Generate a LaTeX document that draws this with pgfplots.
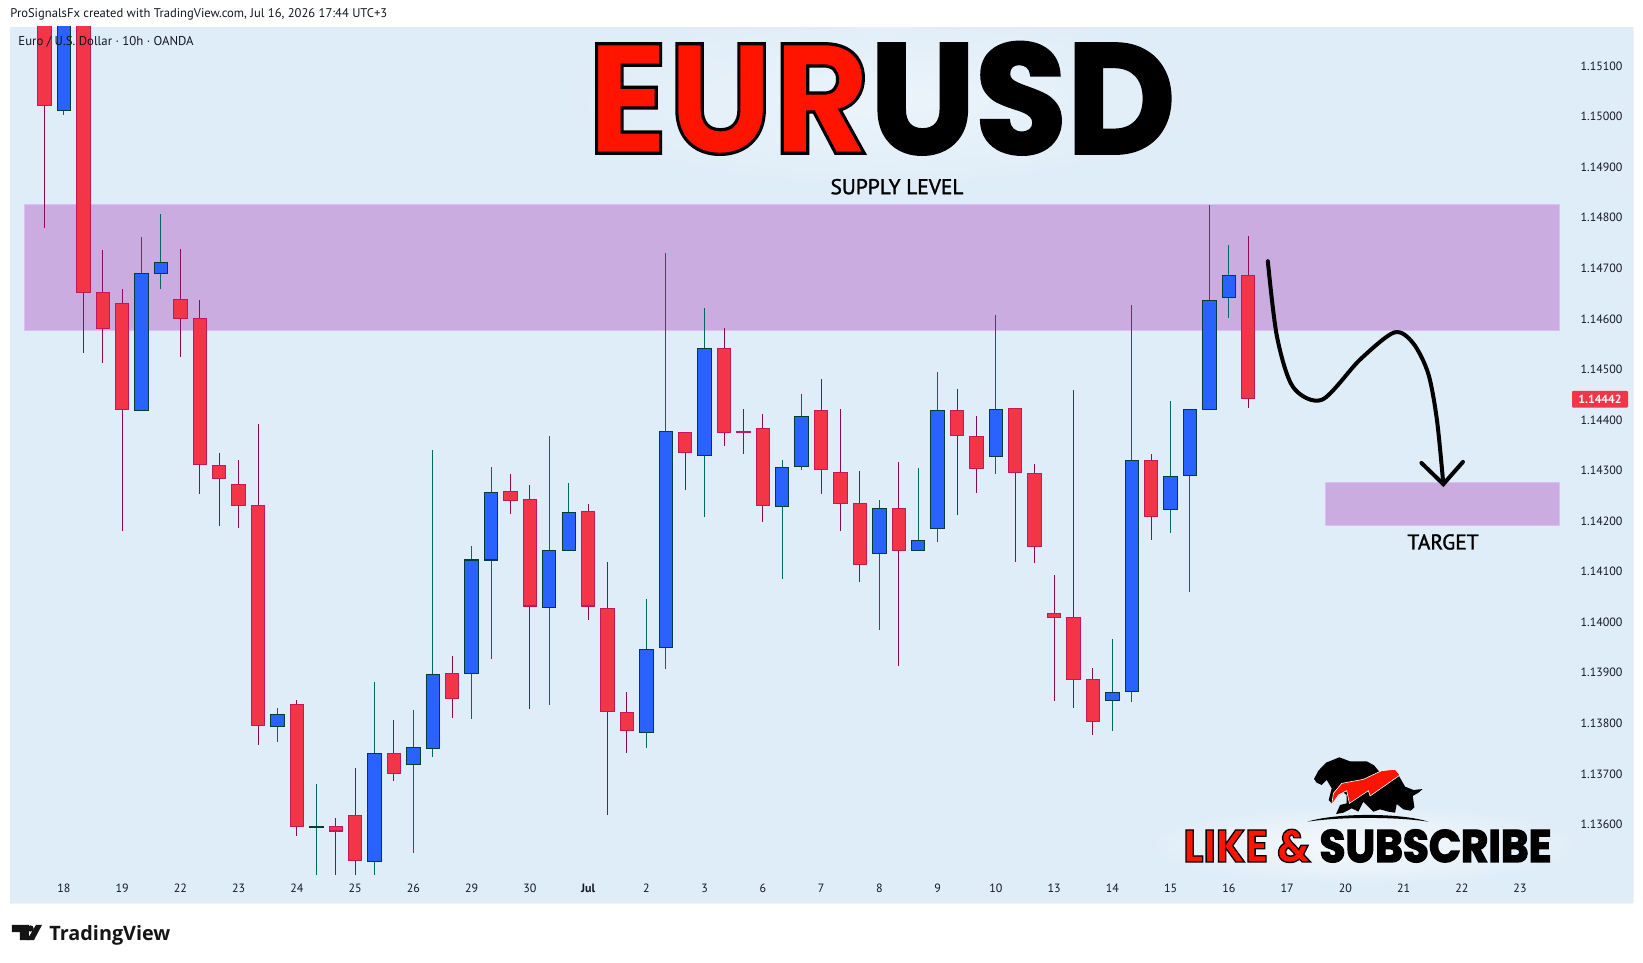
\documentclass[border=0pt]{standalone}
\usepackage{fontspec}
\usepackage{pgfplots}
\usepackage{pgfplotstable}
\pgfplotsset{compat=1.18}
\usetikzlibrary{fadings}
\tikzfading[name=softglow, inner color=transparent!0, outer color=transparent!100]
\setmainfont{PT Sans}
\newfontfamily\titlefont{Poppins}
\newfontfamily\tvfont{Open Sans}
\definecolor{bgc}{RGB}{223,237,248}
\definecolor{frame}{RGB}{240,243,248}
\definecolor{redfill}{RGB}{242,54,72}
\definecolor{redline}{RGB}{194,24,91}
\definecolor{redwick}{RGB}{136,14,79}
\definecolor{bluefill}{RGB}{41,98,255}
\definecolor{blueline}{RGB}{0,62,56}
\definecolor{bluewick}{RGB}{0,105,92}
\definecolor{zone}{RGB}{203,172,224}
\definecolor{zoneedge}{RGB}{222,190,244}
\definecolor{txt}{RGB}{19,23,34}
\definecolor{eur}{RGB}{255,20,0}
% x top bot hi lo
\pgfplotstableread{
x top bot hi lo
0 1.15300 1.15020 1.15350 1.14780
2 1.15300 1.14652 1.15350 1.14533
3 1.14654 1.14579 1.14736 1.14513
4 1.14631 1.14420 1.14659 1.14181
7 1.14639 1.14600 1.14738 1.14525
8 1.14601 1.14310 1.14637 1.14254
9 1.14310 1.14284 1.14335 1.14190
10 1.14273 1.14229 1.14321 1.14187
11 1.14231 1.13795 1.14392 1.13757
13 1.13838 1.13594 1.13846 1.13577
15 1.13596 1.13586 1.13613 1.13500
16 1.13618 1.13528 1.13712 1.13500
18 1.13741 1.13700 1.13807 1.13686
21 1.13899 1.13849 1.13933 1.13811
24 1.14259 1.14240 1.14293 1.14214
25 1.14243 1.14031 1.14271 1.13828
28 1.14219 1.14031 1.14234 1.14004
29 1.14029 1.13823 1.14119 1.13619
30 1.13823 1.13784 1.13861 1.13742
33 1.14376 1.14335 1.14376 1.14261
35 1.14542 1.14375 1.14582 1.14349
36 1.14378 1.14374 1.14422 1.14333
37 1.14385 1.14230 1.14412 1.14198
40 1.14419 1.14300 1.14481 1.14254
41 1.14298 1.14234 1.14422 1.14180
42 1.14235 1.14114 1.14299 1.14080
44 1.14225 1.14141 1.14317 1.13913
47 1.14419 1.14369 1.14461 1.14212
48 1.14368 1.14302 1.14408 1.14256
50 1.14423 1.14296 1.14423 1.14119
51 1.14296 1.14149 1.14313 1.14117
52 1.14018 1.14009 1.14093 1.13844
53 1.14010 1.13886 1.14459 1.13830
54 1.13887 1.13803 1.13909 1.13776
57 1.14320 1.14209 1.14333 1.14163
62 1.14686 1.14442 1.14764 1.14424
}\redcandles
\pgfplotstableread{
x top bot hi lo
1 1.15300 1.15012 1.15400 1.15003
5 1.14690 1.14418 1.14762 1.14418
6 1.14712 1.14689 1.14807 1.14659
12 1.13818 1.13793 1.13830 1.13763
14 1.13596 1.13592 1.13680 1.13500
17 1.13741 1.13526 1.13882 1.13500
19 1.13753 1.13718 1.13826 1.13544
20 1.13897 1.13750 1.14341 1.13733
22 1.14124 1.13897 1.14151 1.13809
23 1.14257 1.14122 1.14307 1.13927
26 1.14142 1.14029 1.14368 1.13836
27 1.14217 1.14141 1.14275 1.14141
31 1.13946 1.13780 1.14046 1.13751
32 1.14378 1.13948 1.14730 1.13907
34 1.14542 1.14329 1.14621 1.14208
38 1.14306 1.14228 1.14321 1.14085
39 1.14407 1.14306 1.14451 1.14301
43 1.14225 1.14135 1.14242 1.13985
45 1.14162 1.14141 1.14305 1.14141
46 1.14419 1.14185 1.14495 1.14159
49 1.14421 1.14327 1.14608 1.14293
55 1.13861 1.13844 1.13967 1.13785
56 1.14320 1.13861 1.14627 1.13842
58 1.14289 1.14221 1.14438 1.14176
59 1.14421 1.14289 1.14421 1.14060
60 1.14637 1.14420 1.14825 1.14420
61 1.14686 1.14642 1.14746 1.14602
}\bluecandles
\pgfplotsset{
  wick/.style={draw=none,mark=none,forget plot,error bars/.cd,y dir=both,y explicit,error mark=none,
    error bar style={line width=0.5pt,color=#1}},
  body/.style 2 args={draw=none,mark=none,forget plot,error bars/.cd,y dir=minus,y explicit,error mark=none,
    error bar style={line width=#2,color=#1}},
}
\newcommand\candles[5]{%
  \addplot[wick=#3] table[x=x,y=top,y error plus expr=\thisrow{hi}-\thisrow{top},y error minus expr=\thisrow{top}-\thisrow{lo}]{#1};
  \addplot[body={#4}{7.2pt}] table[x=x,y=top,y error minus expr=\thisrow{top}-\thisrow{bot}]{#1};
  \addplot[body={#5}{6.2pt}] table[x=x,y expr=\thisrow{top}-0.00002,y error minus expr=\thisrow{top}-\thisrow{bot}-0.00004]{#1};
}
\begin{document}
\begin{tikzpicture}
\begin{axis}[
  scale only axis, width=811.5pt, height=438.15pt,
  xmin=-1.777, xmax=81.82, ymin=1.13444, ymax=1.151772,
  axis background/.style={fill=bgc},
  axis line style={draw=frame,line width=0.5pt},
  axis y line*=right, axis x line*=bottom,
  major tick length=0pt,
  scaled y ticks=false,
  ytick={1.136,1.137,1.138,1.139,1.140,1.141,1.142,1.143,1.144,1.145,1.146,1.147,1.148,1.149,1.150,1.151},
  yticklabel style={anchor=west,xshift=-29.7pt,text=txt,font=\fontsize{6}{7}\selectfont,
    /pgf/number format/fixed,/pgf/number format/precision=5,/pgf/number format/fixed zerofill,
    /pgf/number format/assume math mode=true},
  xtick={1,4,7,10,13,16,19,22,25,28,31,34,37,40,43,46,49,52,55,58,61,64,67,70,73,76},
  xticklabels={18,19,22,23,24,25,26,29,30,\textbf{Jul},2,3,6,7,8,9,10,13,14,15,16,17,20,21,22,23},
  xticklabel style={anchor=center,yshift=7.3pt,text=txt,font=\fontsize{6}{7}\selectfont},
  clip=true,
]
\addplot[fill=zone,draw=zoneedge,line width=0.5pt,forget plot] coordinates {(-1.025,1.14827)(78.05,1.14827)(78.05,1.14577)(-1.025,1.14577)(-1.025,1.14827)};
\addplot[fill=zone,draw=zoneedge,line width=0.5pt,forget plot] coordinates {(66,1.14277)(78.05,1.14277)(78.05,1.14192)(66,1.14192)(66,1.14277)};
\candles{\redcandles}{x}{redwick}{redline}{redfill}
\candles{\bluecandles}{x}{bluewick}{blueline}{bluefill}
\addplot[black,line width=2pt,smooth,line cap=round,forget plot] coordinates {(63.01,1.14714)(63.48,1.14565)(64.31,1.14465)(65.80,1.14440)(67.75,1.14519)(69.52,1.14573)(70.49,1.14552)(71.27,1.14492)(71.72,1.14400)(72.05,1.14273)};
\addplot[black,line width=2pt,line cap=round,line join=miter,forget plot] coordinates {(70.92,1.14315)(72.05,1.14273)(73.06,1.14317)};
\end{axis}
\begin{scope}[shift={(-5pt,451.65pt)},x=0.5pt,y=-0.5pt]
\pgfresetboundingbox
\path[use as bounding box] (0,0) rectangle (1643,963);
\node[anchor=west,text=txt,inner sep=0,font=\fontsize{6.3}{7}\selectfont] at (10,14.7) {ProSignalsFx created with TradingView.com, Jul 16, 2026 17:44 UTC+3};
\node[anchor=west,text=txt,inner sep=0,font=\fontsize{6.4}{7}\selectfont] at (18,41.7) {Euro / U.S. Dollar · 10h · OANDA};
% title
\fill[white,opacity=.4,path fading=softglow] (540,5) rectangle (1225,195);
\node[anchor=base west,inner sep=0,font=\titlefont\bfseries\fontsize{78}{78}\selectfont] at (587,153.3) {\scalebox{0.955}[1]{\special{pdf:code 2 Tr 1.6 w 0 0 0 RG}\color{eur}\special{pdf:code 2 Tr 1.6 w 0 0 0 RG}EUR\color{black}\special{pdf:code 2 Tr 1.6 w 0 0 0 RG}USD\special{pdf:code 0 Tr}}};
\node[text=black,inner sep=0,font=\fontsize{10.7}{12}\selectfont] at (897,186.7) {\special{pdf:code 2 Tr 0.15 w 0 0 0 RG}SUPPLY LEVEL\special{pdf:code 0 Tr}};
\node[text=black,inner sep=0,font=\fontsize{10.7}{12}\selectfont] at (1443,542) {\special{pdf:code 2 Tr 0.15 w 0 0 0 RG}TARGET\special{pdf:code 0 Tr}};
% last price
\node[fill=redfill,rounded corners=0.5pt,text=white,inner sep=0,minimum width=28pt,minimum height=8.4pt,font=\bfseries\fontsize{5.9}{7}\selectfont] at (1600,399.3) {1.14442};
% subscribe
\fill[white,opacity=.75,path fading=softglow] (1140,805) rectangle (1590,885);
\node[anchor=base west,inner sep=0,font=\titlefont\bfseries\fontsize{22.8}{24}\selectfont] at (1183,862) {\scalebox{0.924}[1]{\color{eur}\special{pdf:code 2 Tr 0.7 w 0 0 0 RG}LIKE\ \&\ \color{black}\special{pdf:code 2 Tr 0.7 w 0 0 0 RG}SUBSCRIBE\special{pdf:code 0 Tr}}};
\begin{scope}[shift={(1150,720)},x=0.1667pt,y=-0.1667pt]
\fill[black] (492,177)--(505,152)--(528,128)--(568,112)--(600,124)--(650,124)--(672,136)--(690,158)--(745,165)--(765,200)--(790,210)--(818,207)--(805,218)--(788,228)--(793,262)--(782,272)--(760,268)--(740,252)--(735,278)--(715,275)--(690,268)--(670,275)--(640,245)--(625,275)--(605,265)--(580,278)--(558,282)--(570,255)--(590,250)--(590,225)--(570,210)--(555,225)--(545,250)--(536,240)--(545,205)--(530,180)--(515,195)--(500,188)--cycle;
\fill[eur,draw=white,line width=0.3pt] (545,255)--(550,220)--(575,190)--(640,178)--(695,152)--(735,148)--(750,165)--(660,228)--(655,212)--(598,250)--(590,212)--(565,225)--cycle;
\fill[black] (472,305) .. controls (560,278) and (750,278) .. (835,305) .. controls (740,290) and (570,290) .. cycle;
\end{scope}
% TradingView logo
\fill[black!92] (12,925)--(29,925)--(29,940)--(20,940)--(20,932)--(12,932)--cycle;
\fill[black!92] (30.5,928.5) circle (3.2);
\fill[black!92] (36,925)--(42,925)--(34,940)--(27,940)--cycle;
\node[anchor=base west,inner sep=0,text=black!92,font=\tvfont\bfseries\fontsize{9.9}{12}\selectfont] at (49,940) {TradingView};
\end{scope}
\end{tikzpicture}
\end{document}
